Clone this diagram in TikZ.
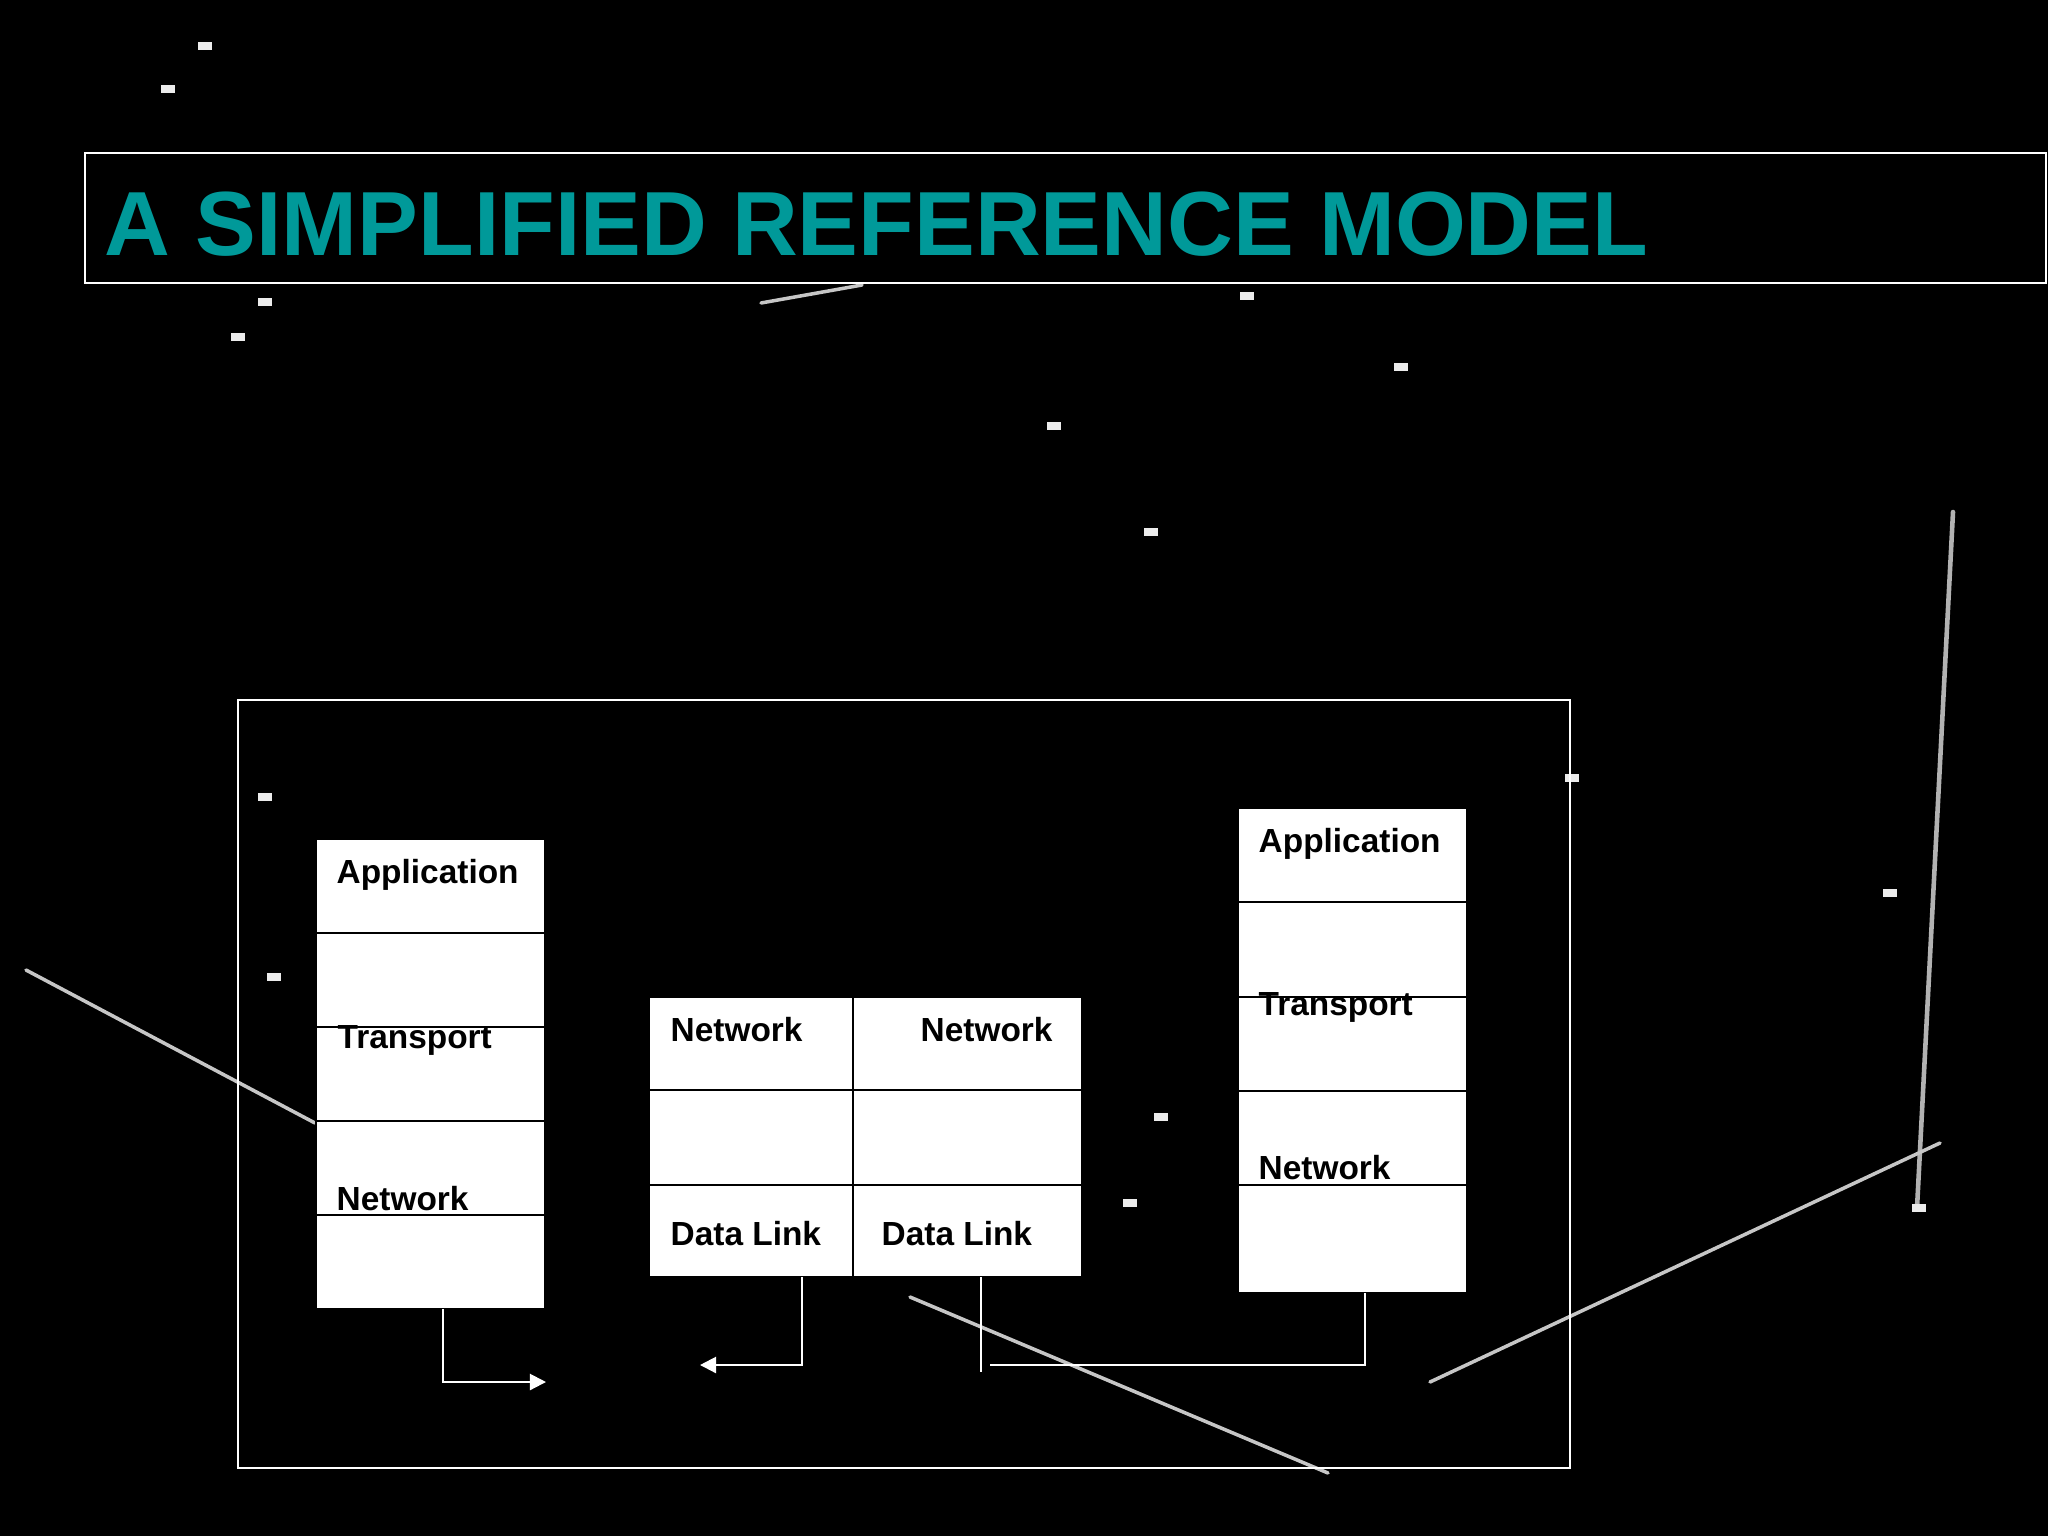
\documentclass[tikz,border=0pt]{standalone}
\usepackage{fontspec}
\setmainfont{Liberation Sans}
\usepackage{tikz}
\usetikzlibrary{positioning,arrows.meta}
\definecolor{titleteal}{RGB}{0,153,153}

\begin{document}
\begin{tikzpicture}[x=0.01cm, y=-0.01cm]
    % Define styles
    \tikzstyle{layer} = [rectangle, draw=black, line width=0.6pt, fill=white, minimum width=2.29cm, minimum height=0.94cm, inner sep=0pt, outer sep=0pt]
    \tikzstyle{layertext} = [anchor=base west, inner sep=0pt, font=\bfseries\fontsize{9.5}{11}\selectfont]
    \tikzstyle{boxframe} = [draw=white, line width=0.6pt]
    \tikzstyle{wire} = [draw=white, line width=0.6pt]
    \tikzstyle{arrowline} = [wire, -{Triangle[length=1.6mm, width=1.6mm]}, white]
    \tikzstyle{streak} = [line width=1pt, gray!45, line cap=round]

    % Background
    \useasboundingbox (0,0) rectangle (2048,1536);
    \fill[black] (0,0) rectangle (2048,1536);
    \draw[streak] (26,970) -- (315,1123);
    \draw[streak] (761,303) -- (862,285);
    \draw[streak, gray!60, line width=1.3pt] (1953,512) -- (1917,1208);
    \draw[streak] (1430,1382) -- (1940,1143);
    \draw[streak] (910,1297) -- (1328,1473);
    \foreach \sx/\sy in {205/46, 168/89, 265/302, 238/337, 1247/296, 1401/367, 1054/426, 1151/532, 265/797, 274/977, 1572/778, 1890/893, 1161/1117, 1130/1203, 1919/1208}
        \fill[white!85!gray] (\sx-7,\sy-4) rectangle (\sx+7,\sy+4);

    % Title
    \draw[boxframe] (85,153) rectangle (2046,283);
    \node[anchor=base west, inner sep=0pt, text=titleteal, font=\bfseries\fontsize{25.9}{30}\selectfont] (title) at (104,255) {A SIMPLIFIED REFERENCE MODEL};

    % Outer frame
    \draw[boxframe] (238,700) rectangle (1570,1468);

    % Left host
    \node[layer, anchor=north west] (lapp) at (316,839) {};
    \node[layer, below=0pt of lapp] (lspare1) {};
    \node[layer, below=0pt of lspare1] (ltrans) {};
    \node[layer, below=0pt of ltrans] (lnet) {};
    \node[layer, below=0pt of lnet] (lspare2) {};
    \node[layertext] (lapptxt) at (336,883) {Application};
    \node[layertext] (ltranstxt) at (337,1048) {Transport};
    \node[layertext] (lnettxt) at (336,1210) {Network};

    % Router
    \node[layer, minimum width=2.04cm, minimum height=0.93cm, anchor=north west] (mnet1) at (649,997) {};
    \node[layer, minimum width=2.29cm, minimum height=0.93cm, right=0pt of mnet1] (mnet2) {};
    \node[layer, minimum width=2.04cm, minimum height=0.95cm, below=0pt of mnet1] (mmid1) {};
    \node[layer, minimum width=2.29cm, minimum height=0.95cm, below=0pt of mnet2] (mmid2) {};
    \node[layer, minimum width=2.04cm, minimum height=0.92cm, below=0pt of mmid1] (mlink1) {};
    \node[layer, minimum width=2.29cm, minimum height=0.92cm, below=0pt of mmid2] (mlink2) {};
    \node[layertext] (mnet1txt) at (670,1041) {Network};
    \node[layertext] (mnet2txt) at (920,1041) {Network};
    \node[layertext] (mlink1txt) at (670,1245) {Data Link};
    \node[layertext] (mlink2txt) at (881,1245) {Data Link};

    % Right host
    \node[layer, anchor=north west] (rapp) at (1238,808) {};
    \node[layer, minimum height=0.95cm, below=0pt of rapp] (rspare1) {};
    \node[layer, below=0pt of rspare1] (rtrans) {};
    \node[layer, below=0pt of rtrans] (rnet) {};
    \node[layer, minimum height=1.08cm, below=0pt of rnet] (rspare2) {};
    \node[layertext] (rapptxt) at (1258,852) {Application};
    \node[layertext] (rtranstxt) at (1258,1015) {Transport};
    \node[layertext] (rnettxt) at (1258,1179) {Network};

    % Links
    \coordinate (ltip) at (546,1382);
    \coordinate (mtip) at (700,1365);
    \coordinate (mstub) at (981,1372);
    \coordinate (rend) at (990,1365);
    \draw[arrowline] ([xshift=1.25mm]lspare2.south) |- (ltip);
    \draw[arrowline] ([xshift=5.1mm]mlink1.south) |- (mtip);
    \draw[wire] (mlink2.south -| mstub) -- (mstub);
    \draw[wire] ([xshift=1.25mm]rspare2.south) |- (rend);
\end{tikzpicture}
\end{document}
